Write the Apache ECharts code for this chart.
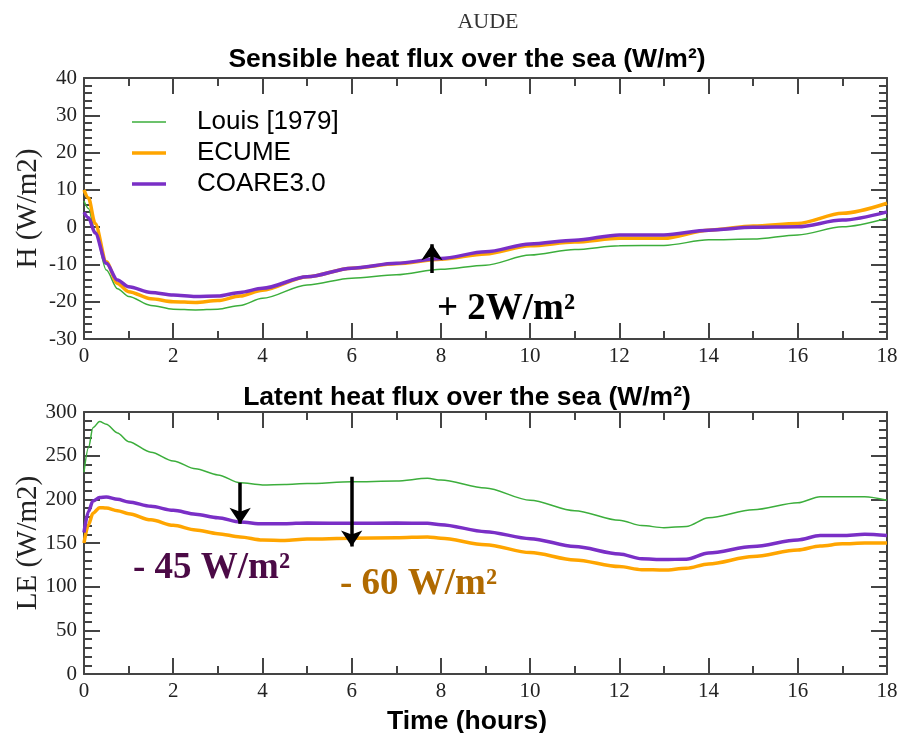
<!DOCTYPE html>
<html>
<head>
<meta charset="utf-8">
<script src="https://cdn.jsdelivr.net/npm/echarts@6/dist/echarts.min.js"></script>
<style>html,body{margin:0;padding:0;background:#fff}#c{width:900px;height:733px}</style>
</head>
<body>
<div id="c"></div>
<script>
// ---------- data ----------
var seriesNames = ['Louis [1979]', 'ECUME', 'COARE3.0'];

// Sensible heat flux (H, W/m2)
var timeH = [0, 0.1, 0.25, 0.5, 0.75, 1, 1.5, 2, 2.5, 3, 3.5, 4, 5, 6, 7, 8, 9, 10, 11, 12, 13, 14, 15, 16, 17, 18];
var hLouis = [7, 5, -1.2, -11.5, -16.5, -18.6, -21, -22, -22.2, -22, -21, -19.1, -15.5, -13.7, -12.8, -11.3, -10.2, -7.5, -6, -5, -4.9, -3.4, -3.2, -2.1, 0.1, 2.4];
var hEcume = [10, 7.8, 1, -9.3, -15.1, -17.3, -19.2, -20, -20.2, -19.7, -18.5, -16.9, -13.3, -11, -9.8, -8.6, -7.2, -5, -4, -3, -3, -0.8, 0.3, 1, 3.7, 6.4];
var hCoare = [4, 2.5, -1.6, -9.7, -14.2, -16, -17.5, -18.2, -18.6, -18.5, -17.5, -16.4, -13.3, -11, -9.7, -8.4, -6.6, -4.5, -3.5, -2.1, -2.1, -0.8, -0.05, 0.1, 1.9, 4.1];

// Latent heat flux (LE, W/m2)
var timeLE = [0, 0.1, 0.2, 0.35, 0.5, 0.75, 1, 1.5, 2, 2.5, 3, 3.5, 4, 4.5, 5, 6, 7, 7.7, 8, 9, 10, 11, 12, 12.5, 13, 13.5, 14, 15, 16, 16.5, 17, 17.5, 18];
var leLouis = [231, 259, 282, 289, 286, 276, 266, 254, 244, 235, 228, 219, 216.5, 217, 218, 220, 221, 224, 222, 213, 199, 187, 176, 170, 167.5, 169, 179, 188, 196, 203, 203, 203, 199];
var leEcume = [150, 171, 184, 190.5, 190, 187, 183.6, 176.5, 170.2, 165, 160.7, 157, 153.5, 153, 154.5, 155.5, 156, 157, 155.5, 148, 139, 130.6, 123, 119.5, 119, 121, 126, 134.5, 142, 146.6, 149, 150, 150];
var leCoare = [162, 186, 198, 202, 202.7, 200, 197, 192, 187.4, 183, 179, 174, 172, 172, 173, 172.5, 173, 172.5, 171, 163, 155, 146, 137.5, 132, 131, 131.5, 138.5, 146, 153.5, 158.5, 158.5, 160, 158.5];

// Annotation arrows: [time, from, to]
var arrowsH = [[7.8, -12.3, -4.6]];
var arrowsLE = [[3.5, 219, 172], [6, 226, 146]];

// Axis ranges / ticks
var xTicks = {min: 0, max: 18, interval: 2};
var yH = {min: -30, max: 40, interval: 10};
var yLE = {min: 0, max: 300, interval: 50};

// ---------- helpers ----------
function pairs(t, v) { return t.map(function (x, i) { return [x, v[i]]; }); }
function arrowData(a) { return a.map(function (r) { return {coords: [[r[0], r[1]], [r[0], r[2]]]}; }); }

var colors = ['#3cae3c', '#ffa500', '#7a2fc6'];
var widths = [1.5, 3.5, 3.5];
var axisCol = '#444';
var serif = '"Liberation Serif", "DejaVu Serif", serif';
var sans = '"Liberation Sans", Arial, sans-serif';

function xAx(grid, pos, labels) {
  return {
    type: 'value', gridIndex: grid, position: pos, min: xTicks.min, max: xTicks.max, interval: xTicks.interval,
    axisLine: {show: true, onZero: false, lineStyle: {color: axisCol, width: 2}},
    axisTick: {show: true, inside: true, length: 16, lineStyle: {color: axisCol, width: 2}},
    minorTick: {show: true, splitNumber: 2, length: 8, lineStyle: {color: axisCol, width: 2}},
    axisLabel: {show: labels, color: '#222', fontFamily: serif, fontSize: 21, margin: 7},
    splitLine: {show: false}, minorSplitLine: {show: false}
  };
}
function yAx(grid, pos, rng, labels, name) {
  return {
    type: 'value', gridIndex: grid, position: pos, min: rng.min, max: rng.max, interval: rng.interval,
    name: name || '', nameLocation: 'middle', nameGap: 41, nameMoveOverlap: false,
    nameTextStyle: {fontFamily: serif, fontSize: 29, color: '#222'},
    axisLine: {show: true, onZero: false, lineStyle: {color: axisCol, width: 2}},
    axisTick: {show: true, inside: true, length: 16, lineStyle: {color: axisCol, width: 2}},
    minorTick: {show: true, splitNumber: 5, length: 8, lineStyle: {color: axisCol, width: 2}},
    axisLabel: {show: labels, color: '#222', fontFamily: serif, fontSize: 21, margin: 7},
    splitLine: {show: false}, minorSplitLine: {show: false}
  };
}

var series = [];
[[hLouis, leLouis], [hEcume, leEcume], [hCoare, leCoare]].forEach(function (d, i) {
  series.push({
    name: seriesNames[i], type: 'line', xAxisIndex: 0, yAxisIndex: 0, symbol: 'none',
    smooth: 0.3, smoothMonotone: 'x', data: pairs(timeH, d[0]),
    lineStyle: {color: colors[i], width: widths[i]}, itemStyle: {color: colors[i]}, z: 3 + (i === 2 ? 1 : 0)
  });
  series.push({
    name: seriesNames[i], type: 'line', xAxisIndex: 2, yAxisIndex: 2, symbol: 'none',
    smooth: 0.3, smoothMonotone: 'x', data: pairs(timeLE, d[1]),
    lineStyle: {color: colors[i], width: widths[i]}, itemStyle: {color: colors[i]}, z: 3
  });
});
series.push({
  type: 'lines', coordinateSystem: 'cartesian2d', xAxisIndex: 0, yAxisIndex: 0,
  symbol: ['none', 'arrow'], symbolSize: 16, data: arrowData(arrowsH),
  lineStyle: {color: '#000', width: 3.5, opacity: 1}, z: 10, silent: true
});
series.push({
  type: 'lines', coordinateSystem: 'cartesian2d', xAxisIndex: 2, yAxisIndex: 2,
  symbol: ['none', 'arrow'], symbolSize: 16, data: arrowData(arrowsLE),
  lineStyle: {color: '#000', width: 3.5, opacity: 1}, z: 10, silent: true
});

// legend icons: thin/thick bar centred in a 34x14 box
var iconThin = 'path://M0,0L0.01,0L0,0.01Z M0,6.25H34V7.75H0Z M34,14L33.99,14L34,13.99Z';
var iconThick = 'path://M0,0L0.01,0L0,0.01Z M0,5.25H34V8.75H0Z M34,14L33.99,14L34,13.99Z';

var chart = echarts.init(document.getElementById('c'), null, {renderer: 'canvas'});
chart.setOption({
  backgroundColor: '#fff',
  animation: false,
  title: [
    {text: 'AUDE', left: 483, top: 6, textAlign: 'center', textStyle: {fontFamily: serif, fontWeight: 'normal', fontSize: 22, color: '#333'}},
    {text: 'Sensible heat flux over the sea (W/m²)', left: 462, top: 41, textAlign: 'center', textStyle: {fontFamily: sans, fontWeight: 'bold', fontSize: 26.5, color: '#000'}},
    {text: 'Latent heat flux over the sea (W/m²)', left: 462, top: 379, textAlign: 'center', textStyle: {fontFamily: sans, fontWeight: 'bold', fontSize: 26.5, color: '#000'}},
    {text: 'Time (hours)', left: 462, top: 703, textAlign: 'center', textStyle: {fontFamily: sans, fontWeight: 'bold', fontSize: 26.5, color: '#000'}}
  ],
  legend: {
    data: [
      {name: seriesNames[0], icon: iconThin},
      {name: seriesNames[1], icon: iconThick},
      {name: seriesNames[2], icon: iconThick}
    ],
    orient: 'vertical', left: 132, top: 109, padding: 0, itemWidth: 34, itemHeight: 14, itemGap: 5,
    textStyle: {fontFamily: sans, fontSize: 26, color: '#000', padding: [0, 0, 0, 26], lineHeight: 25},
    selectedMode: false
  },
  grid: [
    {left: 84, right: 13, top: 78, height: 261, outerBoundsMode: 'none', containLabel: false},
    {left: 84, right: 13, top: 412, height: 262, outerBoundsMode: 'none', containLabel: false}
  ],
  xAxis: [xAx(0, 'bottom', true), xAx(0, 'top', false), xAx(1, 'bottom', true), xAx(1, 'top', false)],
  yAxis: [yAx(0, 'left', yH, true, 'H (W/m2)'), yAx(0, 'right', yH, false), yAx(1, 'left', yLE, true, 'LE (W/m2)'), yAx(1, 'right', yLE, false)],
  series: series,
  graphic: [
    {type: 'text', left: 437, top: 291, style: {text: '+ 2W/m²', font: 'bold 37px ' + serif, fill: '#000'}},
    {type: 'text', left: 133, top: 550, style: {text: '- 45 W/m²', font: 'bold 37px ' + serif, fill: '#4b0a46'}},
    {type: 'text', left: 340, top: 566, style: {text: '- 60 W/m²', font: 'bold 37px ' + serif, fill: '#b06a00'}}
  ]
});
</script>
</body>
</html>
